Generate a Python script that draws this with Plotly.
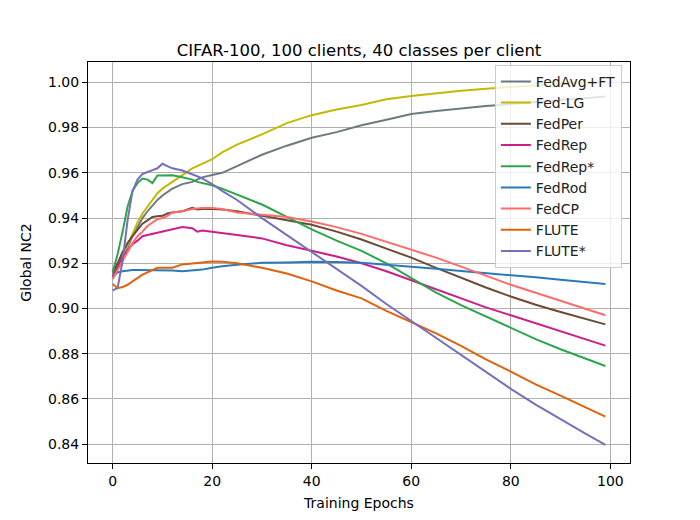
import plotly.graph_objects as go

epochs = [0, 1, 2, 3, 4, 5, 6, 7, 8, 9, 10, 11, 12, 14, 16, 17, 18, 20, 22, 25,
          30, 35, 40, 45, 50, 55, 60, 65, 70, 75, 80, 85, 90, 95, 99]

fedavg_ft = [.915, .919, .923, .927, .932, .936, .940, .943, .9455, .948, .950, .9515, .953, .955, .956, .957, .958, .959, .960, .963,
             .968, .972, .9755, .978, .981, .9835, .986, .9873, .9885, .9895, .9904, .9914, .9922, .993, .9937]
fed_lg = [.913, .918, .923, .928, .933, .938, .942, .945, .948, .951, .953, .9545, .956, .959, .962, .963, .964, .966, .969, .9725,
          .977, .982, .9855, .988, .990, .9925, .994, .9953, .9963, .9972, .998, .9987, .9994, 1.0, 1.0004]
fedper = [.916, .920, .925, .929, .932, .935, .9375, .939, .9405, .9408, .941, .942, .9425, .943, .9445, .9438, .944, .944, .9438, .943,
          .941, .939, .937, .934, .9305, .9265, .9225, .918, .9135, .9093, .9053, .9017, .8985, .8955, .893]
fedrep = [.914, .918, .923, .926, .9285, .930, .932, .9325, .933, .9335, .934, .9345, .935, .936, .9355, .934, .9345, .934, .9335, .9325,
          .931, .928, .9255, .923, .920, .9165, .9125, .9085, .9045, .9005, .897, .8935, .890, .8865, .8836]
fedrep_star = [.916, .924, .934, .945, .952, .9555, .9575, .957, .9555, .9588, .9588, .9589, .9589, .958, .957, .956, .9555, .9545, .953, .9505,
               .946, .9405, .935, .930, .9255, .920, .9135, .907, .9015, .8965, .8913, .8865, .882, .878, .8746]
fedrod = [.914, .916, .9165, .9168, .917, .917, .917, .917, .917, .917, .917, .9169, .9168, .9165, .9168, .917, .9172, .918, .9187, .9193,
          .9202, .9204, .9207, .9206, .9202, .9194, .9186, .9176, .9166, .9157, .9149, .9138, .9127, .9117, .9108]
fedcp = [.913, .917, .921, .925, .929, .932, .934, .9365, .938, .9395, .940, .941, .9425, .943, .944, .9442, .9445, .9445, .944, .9425,
         .9415, .9405, .9385, .936, .933, .9295, .926, .9225, .9185, .9145, .9105, .907, .9035, .900, .897]
flute = [.9108, .909, .9095, .9105, .912, .9135, .915, .916, .917, .918, .918, .918, .918, .9195, .920, .9203, .9205, .9208, .9207, .920,
         .918, .9155, .912, .908, .9045, .899, .894, .889, .8835, .8775, .8721, .8665, .8615, .8565, .8522]
flute_star = [.908, .909, .921, .939, .952, .957, .9595, .9605, .9612, .962, .964, .963, .962, .961, .9595, .9585, .9575, .955, .952, .948,
              .940, .9325, .925, .9175, .910, .902, .8945, .887, .8795, .872, .8645, .8575, .851, .8447, .8397]

names = ["FedAvg+FT", "Fed-LG", "FedPer", "FedRep", "FedRep*", "FedRod", "FedCP", "FLUTE", "FLUTE*"]
series = [fedavg_ft, fed_lg, fedper, fedrep, fedrep_star, fedrod, fedcp, flute, flute_star]
colors = ["#6b7b80", "#c2ba00", "#6b4a36", "#cc1f8a", "#2ca44c", "#2a7ab9", "#ff6b6b", "#e0620e", "#7570b8"]

fig = go.Figure()
for n, s, c in zip(names, series, colors):
    fig.add_trace(go.Scatter(x=epochs, y=s, mode="lines", name=n,
                             line=dict(color=c, width=2)))

font_family = "DejaVu Sans"
fig.update_layout(
    width=700, height=520,
    margin=dict(l=80, r=78, t=54, b=65),
    paper_bgcolor="white", plot_bgcolor="white",
    font=dict(family=font_family, size=14, color="black"),
    title=dict(text="CIFAR-100, 100 clients, 40 classes per client",
               x=0.5, xref="paper", xanchor="center",
               y=1, yref="paper", yanchor="bottom", pad=dict(b=6),
               font=dict(size=16.5, family=font_family, color="black")),
    showlegend=True,
    legend=dict(x=0.985, y=0.993, xanchor="right", yanchor="top",
                bgcolor="rgba(255,255,255,0.8)", bordercolor="#cccccc", borderwidth=1,
                font=dict(size=14, family=font_family, color="#222")),
)
fig.update_xaxes(range=[-4.95, 103.95], tickvals=[0, 20, 40, 60, 80, 100],
                 showgrid=True, gridcolor="#b0b0b0", gridwidth=1,
                 showline=True, linecolor="black", linewidth=1, mirror=True,
                 ticks="outside", ticklen=5, tickcolor="black", zeroline=False,
                 title=dict(text="Training Epochs", font=dict(size=14), standoff=10))
fig.update_yaxes(range=[0.8317, 1.0090],
                 tickvals=[0.84, 0.86, 0.88, 0.90, 0.92, 0.94, 0.96, 0.98, 1.00],
                 tickformat=".2f",
                 showgrid=True, gridcolor="#b0b0b0", gridwidth=1,
                 showline=True, linecolor="black", linewidth=1, mirror=True,
                 ticks="outside", ticklen=5, tickcolor="black", zeroline=False,
                 title=dict(text="Global NC2", font=dict(size=14), standoff=13))

fig.write_html("out.html")
